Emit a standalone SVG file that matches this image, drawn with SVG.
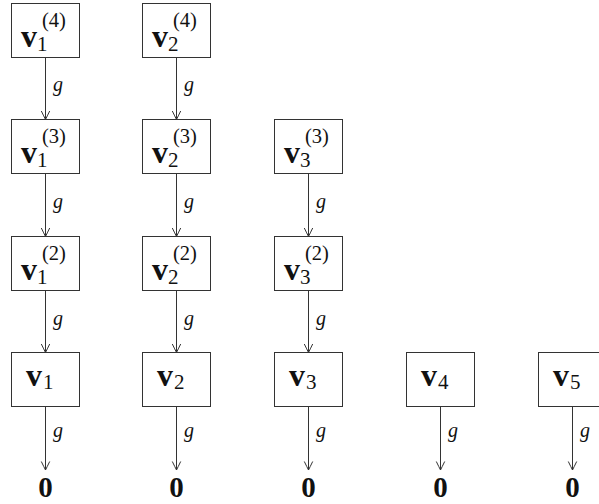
<svg xmlns="http://www.w3.org/2000/svg" width="599" height="504" viewBox="0 0 599 504">
<style>
.box{fill:#fff;stroke:#333;stroke-width:1}
.edge{stroke:#333;stroke-width:1;fill:none}
.v{font-family:"Liberation Serif","DejaVu Serif",serif;font-weight:bold;font-size:32px;fill:#111}
.s{font-weight:normal;font-size:21px}
.p{font-weight:normal;font-size:20.5px}
.g{font-family:"Liberation Serif","DejaVu Serif",serif;font-style:italic;font-size:20px;fill:#111}
.z{font-family:"Liberation Serif","DejaVu Serif",serif;font-weight:bold;font-size:29px;fill:#111;text-anchor:middle}
</style>
<defs>
<marker id="ah" viewBox="-10 -6 12 12" refX="0" refY="0" markerWidth="12" markerHeight="12" markerUnits="userSpaceOnUse" orient="auto">
<path d="M-8.5,-4.2 Q-3,-1.5 0,0 Q-3,1.5 -8.5,4.2" fill="none" stroke="#333" stroke-width="1"/>
</marker>
</defs>
<g id="connectors">
<g class="edge" marker-end="url(#ah)">
<line x1="45.5" y1="57.5" x2="45.5" y2="119.5"/>
<line x1="45.5" y1="173.5" x2="45.5" y2="236.5"/>
<line x1="45.5" y1="290.5" x2="45.5" y2="352.5"/>
<line x1="45.5" y1="406.5" x2="45.5" y2="470"/>
<line x1="176.5" y1="57.5" x2="176.5" y2="119.5"/>
<line x1="176.5" y1="173.5" x2="176.5" y2="236.5"/>
<line x1="176.5" y1="290.5" x2="176.5" y2="352.5"/>
<line x1="176.5" y1="406.5" x2="176.5" y2="470"/>
<line x1="308.5" y1="173.5" x2="308.5" y2="236.5"/>
<line x1="308.5" y1="290.5" x2="308.5" y2="352.5"/>
<line x1="308.5" y1="406.5" x2="308.5" y2="470"/>
<line x1="440.5" y1="406.5" x2="440.5" y2="470"/>
<line x1="572.5" y1="406.5" x2="572.5" y2="470"/>
</g>
<text class="g" x="53" y="91">g</text>
<text class="g" x="53" y="208">g</text>
<text class="g" x="53" y="324.5">g</text>
<text class="g" x="53" y="437">g</text>
<text class="g" x="184" y="91">g</text>
<text class="g" x="184" y="208">g</text>
<text class="g" x="184" y="324.5">g</text>
<text class="g" x="184" y="437">g</text>
<text class="g" x="316" y="208">g</text>
<text class="g" x="316" y="324.5">g</text>
<text class="g" x="316" y="437">g</text>
<text class="g" x="448" y="437">g</text>
<text class="g" x="580" y="437">g</text>
</g>
<g id="v1_4"><rect class="box" x="11.5" y="3.5" width="68" height="54"/><text class="v" x="21" y="46.5">v<tspan class="s" x="37" y="51">1</tspan><tspan class="p" x="42" y="27">(4)</tspan></text></g>
<g id="v2_4"><rect class="box" x="142.5" y="3.5" width="68" height="54"/><text class="v" x="152" y="46.5">v<tspan class="s" x="168" y="51">2</tspan><tspan class="p" x="173" y="27">(4)</tspan></text></g>
<g id="v1_3"><rect class="box" x="11.5" y="119.5" width="68" height="54"/><text class="v" x="21" y="162.5">v<tspan class="s" x="37" y="167">1</tspan><tspan class="p" x="42" y="143">(3)</tspan></text></g>
<g id="v2_3"><rect class="box" x="142.5" y="119.5" width="68" height="54"/><text class="v" x="152" y="162.5">v<tspan class="s" x="168" y="167">2</tspan><tspan class="p" x="173" y="143">(3)</tspan></text></g>
<g id="v3_3"><rect class="box" x="274.5" y="119.5" width="68" height="54"/><text class="v" x="284" y="162.5">v<tspan class="s" x="300" y="167">3</tspan><tspan class="p" x="305" y="143">(3)</tspan></text></g>
<g id="v1_2"><rect class="box" x="11.5" y="236.5" width="68" height="54"/><text class="v" x="21" y="279.5">v<tspan class="s" x="37" y="284">1</tspan><tspan class="p" x="42" y="260">(2)</tspan></text></g>
<g id="v2_2"><rect class="box" x="142.5" y="236.5" width="68" height="54"/><text class="v" x="152" y="279.5">v<tspan class="s" x="168" y="284">2</tspan><tspan class="p" x="173" y="260">(2)</tspan></text></g>
<g id="v3_2"><rect class="box" x="274.5" y="236.5" width="68" height="54"/><text class="v" x="284" y="279.5">v<tspan class="s" x="300" y="284">3</tspan><tspan class="p" x="305" y="260">(2)</tspan></text></g>
<g id="v1"><rect class="box" x="11.5" y="352.5" width="68" height="54"/><text class="v" x="26" y="386">v<tspan class="s" x="43" y="389">1</tspan></text></g>
<g id="v2"><rect class="box" x="142.5" y="352.5" width="68" height="54"/><text class="v" x="157" y="386">v<tspan class="s" x="174" y="389">2</tspan></text></g>
<g id="v3"><rect class="box" x="274.5" y="352.5" width="68" height="54"/><text class="v" x="289" y="386">v<tspan class="s" x="306" y="389">3</tspan></text></g>
<g id="v4"><rect class="box" x="406.5" y="352.5" width="68" height="54"/><text class="v" x="421" y="386">v<tspan class="s" x="438" y="389">4</tspan></text></g>
<g id="v5"><rect class="box" x="538.5" y="352.5" width="68" height="54"/><text class="v" x="553" y="386">v<tspan class="s" x="570" y="389">5</tspan></text></g>
<g id="zeros">
<text class="z" x="45.5" y="497">0</text>
<text class="z" x="176.5" y="497">0</text>
<text class="z" x="308.5" y="497">0</text>
<text class="z" x="440.5" y="497">0</text>
<text class="z" x="572.5" y="497">0</text>
</g>
</svg>
